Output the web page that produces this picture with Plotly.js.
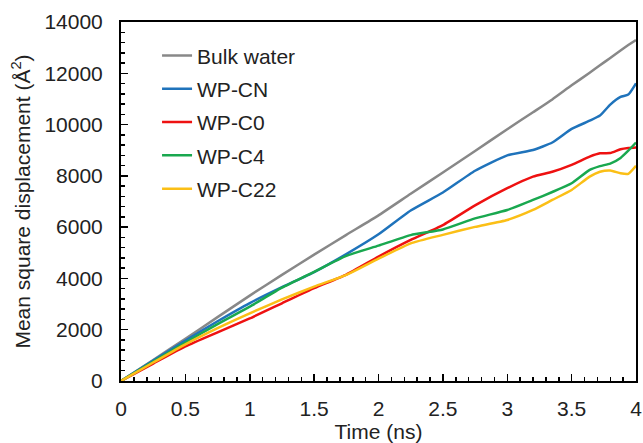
<!DOCTYPE html>
<html>
<head>
<meta charset="utf-8">
<script src="https://cdn.plot.ly/plotly-3.0.1.min.js"></script>
<style>html,body{margin:0;padding:0;background:#fff}#chart{width:643px;height:443px}</style>
</head>
<body>
<div id="chart"></div>
<script>
const time = [0, 0.25, 0.5, 0.75, 1, 1.25, 1.5, 1.75, 2, 2.25, 2.5, 2.75, 3, 3.2, 3.35, 3.5, 3.64, 3.72, 3.8, 3.88, 3.94, 4];
const bulkWater = [0, 820, 1650, 2490, 3330, 4140, 4930, 5700, 6460, 7300, 8130, 8970, 9820, 10480, 10980, 11530, 12020, 12310, 12600, 12890, 13100, 13300];
const wpCN = [0, 800, 1580, 2330, 3040, 3660, 4250, 4950, 5720, 6650, 7350, 8200, 8800, 9010, 9300, 9830, 10150, 10350, 10780, 11080, 11170, 11610];
const wpC0 = [0, 680, 1350, 1900, 2440, 3030, 3620, 4150, 4850, 5500, 6080, 6850, 7520, 7970, 8160, 8430, 8750, 8880, 8890, 9040, 9090, 9110];
const wpC4 = [0, 760, 1500, 2220, 2900, 3640, 4260, 4880, 5280, 5690, 5910, 6340, 6670, 7060, 7370, 7710, 8230, 8380, 8480, 8700, 8980, 9300];
const wpC22 = [0, 720, 1430, 2060, 2640, 3180, 3680, 4140, 4770, 5370, 5700, 6010, 6280, 6670, 7060, 7450, 7970, 8160, 8210, 8100, 8080, 8390];

const names = ["Bulk water", "WP-CN", "WP-C0", "WP-C4", "WP-C22"];
const series = [bulkWater, wpCN, wpC0, wpC4, wpC22];
const colors = ["#888888", "#1f73bb", "#ee1111", "#19a84f", "#fbbf16"];

const traces = series.map((s, i) => ({
  x: time, y: s, name: names[i], legendgroup: names[i],
  type: "scatter", mode: "lines",
  line: {color: colors[i], width: 2.5, shape: "spline", smoothing: 0.5}
}));

const fam = "Liberation Sans, Arial, sans-serif";
const axisFont = {family: fam, size: 21, color: "#222"};
const layout = {
  width: 643, height: 443,
  margin: {l: 121, r: 7, t: 22, b: 62},
  paper_bgcolor: "#fff", plot_bgcolor: "#fff",
  font: axisFont,
  showlegend: true,
  legend: {x: 0.07, y: 0.963, xanchor: "left", yanchor: "top", font: {family: fam, size: 21, color: "#222"}, bgcolor: "rgba(0,0,0,0)", traceorder: "grouped", tracegroupgap: 3},
  xaxis: {
    range: [0, 4], dtick: 0.5, tick0: 0,
    showgrid: false, zeroline: false,
    showline: true, linecolor: "#000", linewidth: 2, mirror: true,
    ticks: "inside", ticklen: 7, tickwidth: 1.5, tickcolor: "#000",
    minor: {dtick: 0.1, ticks: "inside", ticklen: 4, tickwidth: 1.5, tickcolor: "#000", showgrid: false},
    tickfont: axisFont, ticklabelstandoff: 8,
    title: {text: "Time (ns)", font: axisFont, standoff: 2}
  },
  yaxis: {
    range: [0, 14000], dtick: 2000, tick0: 0, tickformat: "d",
    showgrid: false, zeroline: false,
    showline: true, linecolor: "#000", linewidth: 2, mirror: true,
    ticks: "inside", ticklen: 7, tickwidth: 1.5, tickcolor: "#000",
    minor: {dtick: 400, ticks: "inside", ticklen: 4, tickwidth: 1.5, tickcolor: "#000", showgrid: false},
    tickfont: axisFont, ticklabelstandoff: 12,
    title: {text: "Mean square displacement (Å<sup>2</sup>)", font: {family: fam, size: 21, color: "#222"}, standoff: 8}
  }
};
Plotly.newPlot("chart", traces, layout, {displayModeBar: false, staticPlot: true});
</script>
</body>
</html>
